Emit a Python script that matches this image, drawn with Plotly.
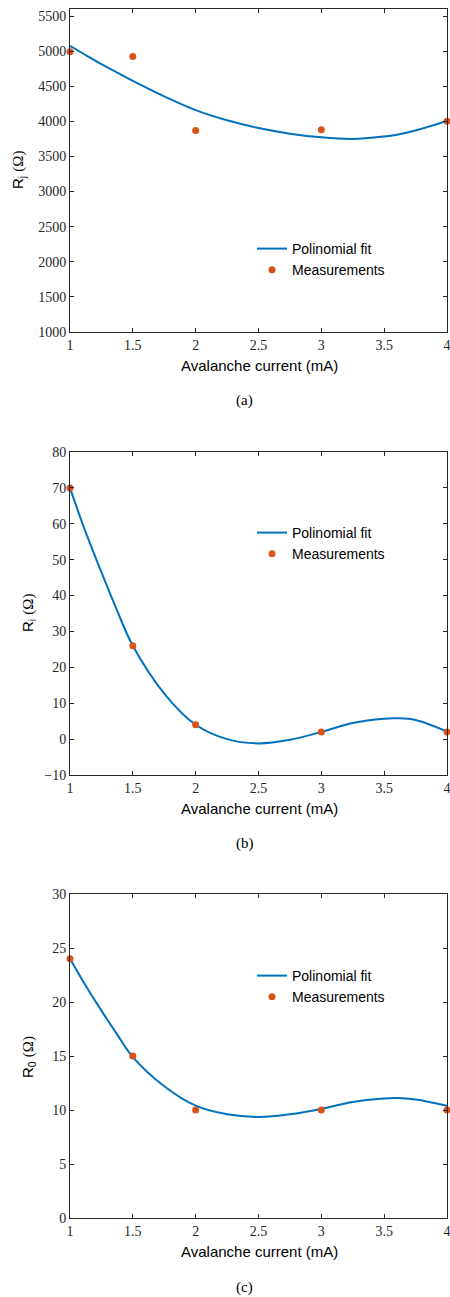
import plotly.graph_objects as go

# measurements
current = [1, 1.5, 2, 3, 4]
rj_meas = [4990, 4925, 3870, 3880, 4000]
ri_meas = [70, 26, 4, 2, 2]
r0_meas = [24, 15, 10, 10, 10]

# polynomial fit curves
fit_x = [1, 1.1, 1.25, 1.375, 1.5, 1.75, 2, 2.25, 2.5, 2.75, 3, 3.25, 3.5, 3.6, 3.75, 4]
rj_fit = [5074, 4970, 4815, 4695, 4575, 4355, 4160, 4015, 3905, 3825, 3772, 3750, 3785, 3810, 3870, 4005]
ri_fit = [70, 60, 46.5, 35.8, 26, 12.7, 4, 0, -1.2, -0.2, 2, 4.5, 5.7, 5.8, 5.3, 2.1]
r0_fit = [24, 22.0, 19.2, 17.0, 14.9, 12.2, 10.4, 9.6, 9.36, 9.6, 10.1, 10.75, 11.06, 11.1, 10.97, 10.4]

x_ticks = [1, 1.5, 2, 2.5, 3, 3.5, 4]

W, H = 450, 1297
BLUE = "#0072BD"
ORANGE = "#D95319"
AX = "#262626"
SERIF = "Liberation Serif"
SANS = "Liberation Sans"

def px(x):
    return x / W

def py(y):
    return 1 - y / H

omega = " <span style='font-family:Liberation Serif'>(Ω)</span>"
panels = [
    dict(meas=rj_meas, fit=rj_fit, rng=[1000, 5600], dt=500, top=9, bot=332,
         lab="R<sub>j</sub>" + omega, labx=18, laby=170, xlab=365, cap="(a)", capy=400, leg=247),
    dict(meas=ri_meas, fit=ri_fit, rng=[-10, 80], dt=10, top=452, bot=775,
         lab="R<sub>i</sub>" + omega, labx=28, laby=613, xlab=808, cap="(b)", capy=843, leg=531),
    dict(meas=r0_meas, fit=r0_fit, rng=[0, 30], dt=5, top=894, bot=1218,
         lab="R<sub>0</sub>" + omega, labx=28, laby=1057, xlab=1251, cap="(c)", capy=1287, leg=974),
]

fig = go.Figure()
annotations = []
layout = {}
for i, p in enumerate(panels):
    n = "" if i == 0 else str(i + 1)
    leg = "legend" + n
    fig.add_trace(go.Scatter(x=fit_x, y=p["fit"], mode="lines", line=dict(color=BLUE, width=2, shape="spline"),
                             name="Polinomial fit", xaxis="x" + n, yaxis="y" + n, legend=leg))
    fig.add_trace(go.Scatter(x=current, y=p["meas"], mode="markers", marker=dict(color=ORANGE, size=7),
                             name="Measurements", xaxis="x" + n, yaxis="y" + n, legend=leg, cliponaxis=False))
    common = dict(showline=True, linecolor=AX, linewidth=1, mirror="ticks", ticks="inside", ticklen=4,
                  tickcolor=AX, showgrid=False, zeroline=False, automargin=False,
                  ticklabeloverflow="allow",
                  tickfont=dict(family=SERIF, size=14, color=AX))
    layout["xaxis" + n] = dict(common, domain=[px(70), px(447)], range=[1, 4], tickvals=x_ticks,
                               anchor="y" + n)
    layout["yaxis" + n] = dict(common, domain=[py(p["bot"]), py(p["top"])], range=p["rng"],
                               dtick=p["dt"], anchor="x" + n)
    layout[leg] = dict(x=px(252), y=py(p["leg"] - 14), xanchor="left", yanchor="top",
                       bgcolor="rgba(0,0,0,0)", font=dict(family=SANS, size=14, color="black"),
                       tracegroupgap=0)
    annotations.append(dict(text="Avalanche current (mA)", x=px(259), y=py(p["xlab"]),
                            font=dict(family=SANS, size=15, color="black")))
    annotations.append(dict(text=p["lab"], x=px(p["labx"]), y=py(p["laby"]), textangle=-90,
                            font=dict(family=SANS, size=15, color="black")))
    annotations.append(dict(text=p["cap"], x=px(245), y=py(p["capy"]),
                            font=dict(family=SERIF, size=15, color="black")))

for a in annotations:
    a.update(xref="paper", yref="paper", xanchor="center", yanchor="middle", showarrow=False)

fig.update_layout(width=W, height=H, margin=dict(l=0, r=0, t=0, b=0), plot_bgcolor="white",
                  paper_bgcolor="white", annotations=annotations, **layout)
# drop the default page margin so the figure fills the window exactly
fig.write_html("out.html", config={"displayModeBar": False},
               post_script="document.body.style.margin = '0';")
